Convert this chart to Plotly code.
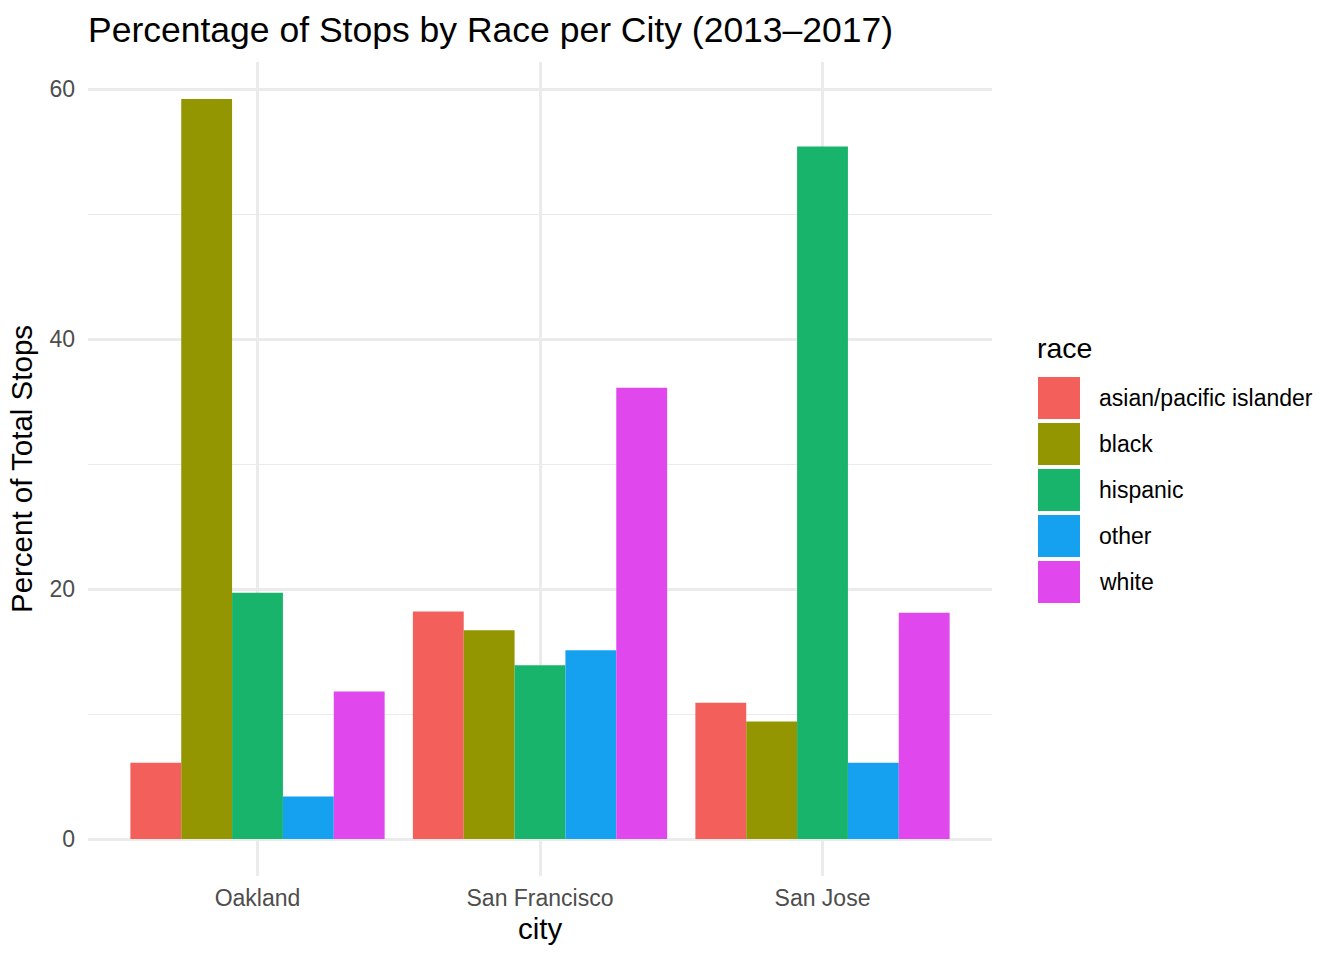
import plotly.graph_objects as go

# ---- data ----
cities = ["Oakland", "San Francisco", "San Jose"]
races = ["asian/pacific islander", "black", "hispanic", "other", "white"]
asian_pi = [6.1, 18.2, 10.9]
black = [59.2, 16.7, 9.4]
hispanic = [19.7, 13.9, 55.4]
other = [3.4, 15.1, 6.1]
white = [11.8, 36.1, 18.1]
series = [asian_pi, black, hispanic, other, white]
colors = ["#F3605B", "#939600", "#18B46B", "#15A0F0", "#E048EE"]
y_ticks = [0, 20, 40, 60]

FONT = "Liberation Sans, Arial, Helvetica, sans-serif"
GRID = "#EBEBEB"

W, H = 1344, 960
L, R, T, B = 88, 352, 62, 84
PW, PH = W - L - R, H - T - B

fig = go.Figure()
for name, vals, col in zip(races, series, colors):
    fig.add_trace(go.Bar(
        x=cities, y=vals, name=name,
        marker=dict(color=col, line=dict(width=0)),
        showlegend=False,
    ))

# ggplot-style expansion
ymax = max(max(s) for s in series)
pad = 0.05 * ymax

fig.update_layout(
    width=W, height=H,
    margin=dict(l=L, r=R, t=T, b=B, autoexpand=False),
    paper_bgcolor="white", plot_bgcolor="white",
    barmode="group", bargap=0.1, bargroupgap=0,
    font=dict(family=FONT, color="black"),
    title=dict(
        text="Percentage of Stops by Race per City (2013–2017)",
        font=dict(size=35.5, color="black", family=FONT),
        x=0, xref="paper", xanchor="left",
        y=1 - 17 / H, yref="container", yanchor="top",
    ),
    xaxis=dict(
        type="category",
        range=[-0.6, len(cities) - 0.4],
        showgrid=True, gridcolor=GRID, gridwidth=2.5,
        zeroline=False, showline=False, ticks="",
        tickfont=dict(size=23, color="#4D4D4D", family=FONT),
        ticklabelstandoff=6,
        title=dict(text="city", font=dict(size=29.5, color="black", family=FONT), standoff=8),
    ),
    yaxis=dict(
        range=[-pad, ymax + pad],
        tickvals=y_ticks,
        showgrid=True, gridcolor=GRID, gridwidth=2.5,
        minor=dict(tickvals=[10, 30, 50], showgrid=True, gridcolor=GRID, gridwidth=1.3, ticks=""),
        zeroline=False, showline=False, ticks="",
        tickfont=dict(size=23, color="#4D4D4D", family=FONT),
        ticklabelstandoff=12,
        title=dict(text="Percent of Total Stops", font=dict(size=29.5, color="black", family=FONT), standoff=8),
    ),
)

# ---- legend drawn in ggplot style (large keys) ----
def px_x(p):
    return (p - L) / PW

def px_y(p):
    return (H - B - p) / PH

key_left, key_size, key_pitch, key_top0 = 1038, 42, 46, 377
text_left = 1097
fig.add_annotation(
    text="race", xref="paper", yref="paper",
    x=px_x(1035), y=px_y(348), xanchor="left", yanchor="middle",
    showarrow=False, font=dict(size=28.5, color="black", family=FONT),
)
for i, (name, col) in enumerate(zip(races, colors)):
    top = key_top0 + i * key_pitch
    fig.add_shape(
        type="rect", xref="paper", yref="paper",
        x0=px_x(key_left), x1=px_x(key_left + key_size),
        y0=px_y(top + key_size), y1=px_y(top),
        fillcolor=col, line=dict(width=0), layer="above",
    )
    fig.add_annotation(
        text=name, xref="paper", yref="paper",
        x=px_x(text_left), y=px_y(top + key_size / 2),
        xanchor="left", yanchor="middle", showarrow=False,
        font=dict(size=23, color="black", family=FONT),
    )

fig.write_html("out.html")
